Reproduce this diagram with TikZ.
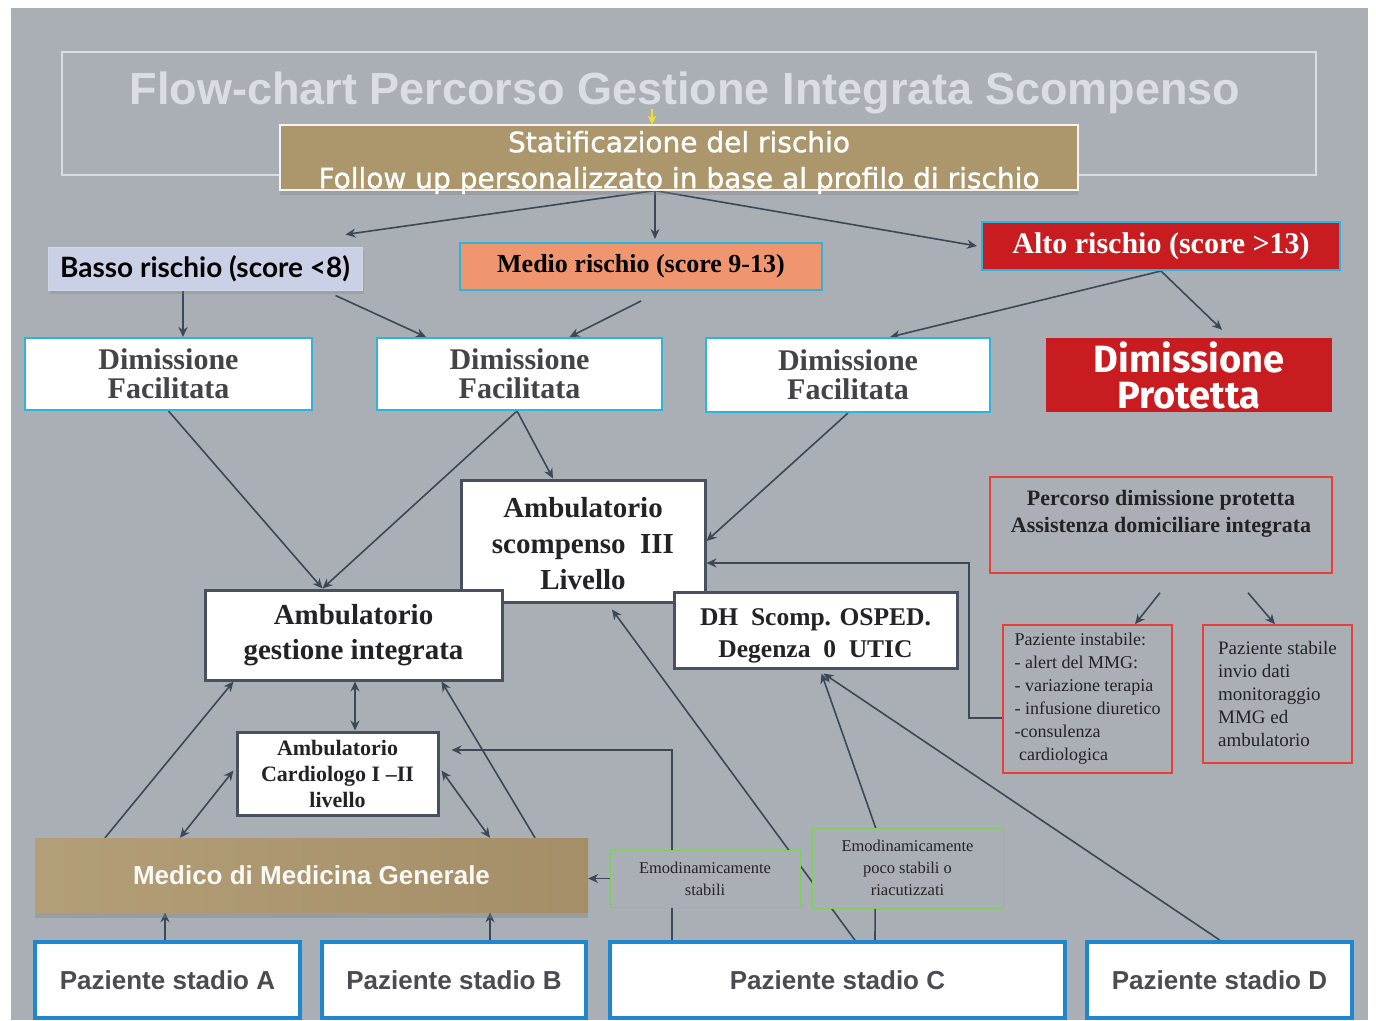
\documentclass[tikz,border=0pt]{standalone}
\usepackage{fontspec}
\setmainfont{Liberation Serif}
\newfontfamily\arialf{Liberation Sans}
\newfontfamily\firaf{Fira Sans}
\newfontfamily\dejaf[FakeBold=1.2]{DejaVu Sans}
\newfontfamily\latof{Lato}
\usetikzlibrary{arrows.meta,shadows}
\newcommand\fsz[2]{\fontsize{#1}{#2}\selectfont}
\newcommand\toppad[1]{\rule{0pt}{#1}}

\definecolor{slide}{RGB}{170,175,182}
\definecolor{khaki}{RGB}{172,150,108}
\definecolor{cyanb}{RGB}{45,180,220}
\definecolor{lav}{RGB}{202,208,230}
\definecolor{salmon}{RGB}{240,150,110}
\definecolor{alred}{RGB}{200,28,32}
\definecolor{darkb}{RGB}{72,82,94}
\definecolor{blueb}{RGB}{30,135,205}
\definecolor{redb}{RGB}{232,64,52}
\definecolor{greenb}{RGB}{125,205,95}
\definecolor{arrc}{RGB}{60,72,86}
\definecolor{ink}{RGB}{35,35,38}
\definecolor{pattxt}{RGB}{75,75,80}
\definecolor{titlec}{RGB}{218,222,228}
\definecolor{yel}{RGB}{235,225,40}

\pgfdeclarelayer{back}
\pgfdeclarelayer{links}
\pgfsetlayers{back,links,main}

\begin{document}
\begin{tikzpicture}[x=1pt,y=-1pt,
  sz/.style 2 args={minimum width=#1pt, minimum height=#2pt, inner sep=0pt},
  dfbox/.style={draw=cyanb, line width=2pt, fill=white, text=ink!85!white, align=center, font=\bfseries\fsz{30}{29}},
  darkbox/.style={draw=darkb, line width=3pt, fill=white, text=ink, align=center},
  patbox/.style={draw=blueb, line width=3.5pt, fill=white, text=pattxt, font=\arialf\bfseries\fsz{26}{28}},
  redbox/.style={draw=redb, line width=1.5pt, fill=slide, text=ink},
  greenbox/.style={draw=greenb, line width=1pt, fill=slide, text=ink, align=center, font=\fsz{16.5}{22}},
  arr/.style={draw=arrc, line width=1.6pt, -{Stealth[length=10pt,width=9pt]}},
  darr/.style={draw=arrc, line width=1.6pt, {Stealth[length=10pt,width=9pt]}-{Stealth[length=10pt,width=9pt]}}
]
\useasboundingbox (0,0) rectangle (1376,1020);
\begin{pgfonlayer}{back}
  \fill[white] (0,0) rectangle (1376,1020);
  \fill[slide] (11,8) rectangle (1368,1020);
\end{pgfonlayer}

% title frame and heading
\node[sz={1254}{123}, draw=titlec, line width=1.5pt] (frame) at (689,113.5) {};
\node[font=\arialf\bfseries\fsz{45}{45}, text=titlec, inner sep=0pt] (ttl) at (685,93)
  {Flow-chart Percorso Gestione Integrata Scompenso};

% risk stratification
\node[sz={798}{65}, fill=khaki, draw=white!90!khaki, line width=1.2pt,
      drop shadow={shadow xshift=0pt, shadow yshift=-5pt, opacity=0.35},
      label={[text=white, align=center, inner sep=0pt, font=\dejaf\fsz{28}{36}, yshift=-5pt]center:Statificazione del rischio\\Follow up personalizzato in base al profilo di rischio}]
  (strat) at (679,157.5) {};

\node[sz={314}{43}, fill=lav, draw=lav!85!white, line width=1pt, text=black, font=\latof\bfseries\fsz{28}{28},
      drop shadow={shadow xshift=2pt, shadow yshift=-4pt, opacity=0.3}]
  (basso) at (205,268.5) {Basso rischio (score <8)};
\node[sz={362}{47}, fill=salmon, draw=cyanb, line width=2pt, text=black, font=\bfseries\fsz{26}{26}]
  (medio) at (641,266.5) {Medio rischio (score 9-13)};
\node[sz={358}{48}, fill=alred, draw=cyanb, line width=2pt, text=white, font=\bfseries\fsz{30}{30}]
  (alto) at (1161,246) {Alto rischio (score >13)};

% discharge
\node[sz={287}{72}, dfbox] (df1) at (168.5,374) {Dimissione\\Facilitata};
\node[sz={285}{72}, dfbox] (df2) at (519.5,374) {Dimissione\\Facilitata};
\node[sz={284}{74}, dfbox] (df3) at (848,375) {Dimissione\\Facilitata};
\node[sz={286}{74}, fill=alred, text=white, align=center, font=\firaf\bfseries\fsz{38}{36}]
  (dp) at (1189,375) {Dimissione\\Protetta};

% outpatient and hospital services
\node[sz={244}{122}, darkbox, font=\bfseries\fsz{29}{36}] (as3) at (583,541)
  {\toppad{26pt}Ambulatorio\\scompenso\ \ III\\Livello};
\node[sz={297}{90}, darkbox, font=\bfseries\fsz{29}{35}] (agi) at (353.5,635)
  {Ambulatorio\\gestione integrata};
\node[sz={283}{76}, darkbox, font=\bfseries\fsz{25.5}{32}] (dh) at (815.5,630)
  {\toppad{28pt}DH\ \ Scomp. OSPED.\\Degenza\ \ 0\ \ UTIC};
\node[sz={201}{83}, darkbox, font=\bfseries\fsz{22}{26}] (acl) at (337.5,773.5)
  {Ambulatorio\\Cardiologo I –II\\livello};

% general practitioner
\node[sz={553}{74}, left color=khaki!92!white, right color=khaki!95!black, text=white!94!khaki,
      font=\arialf\bfseries\fsz{26}{26}, drop shadow={shadow xshift=0pt, shadow yshift=-6pt, opacity=0.4}]
  (mmg) at (311.5,875) {Medico di Medicina Generale};

% patients by stage
\node[sz={265}{76}, patbox] (pa) at (167.5,980) {Paziente stadio A};
\node[sz={264}{76}, patbox] (pb) at (454,980) {Paziente stadio B};
\node[sz={455}{76}, patbox] (pc) at (837.5,980) {Paziente stadio C};
\node[sz={265}{76}, patbox] (pd) at (1219.5,980) {Paziente stadio D};

% haemodynamic status
\node[sz={190}{57}, greenbox] (em1) at (705,878.5) {Emodinamicamente\\stabili};
\node[sz={191}{80}, greenbox] (em2) at (907.5,868) {Emodinamicamente\\poco stabili o\\riacutizzati};

% protected discharge pathway
\node[sz={342}{96}, redbox, align=center, font=\bfseries\fsz{22}{27}] (pdp) at (1161,525)
  {\toppad{24pt}Percorso dimissione protetta\\Assistenza domiciliare integrata\\\strut};
\node[sz={169}{148}, redbox, align=left, font=\fsz{18}{23}] (pins) at (1087.5,699)
  {Paziente instabile:\\- alert del MMG:\\- variazione terapia\\- infusione diuretico\\-consulenza\\\ cardiologica};
\node[sz={149}{138}, redbox, align=left, font=\fsz{19}{23}] (pst) at (1277.5,694)
  {Paziente stabile\\invio dati\\monitoraggio\\MMG ed\\ambulatorio};

% connectors
\begin{pgfonlayer}{links}
  \draw[yel, line width=1.5pt, -{Stealth[length=9pt,width=9pt]}] ([xshift=-33pt,yshift=-16pt]ttl.center) -- ([xshift=-27pt]strat.north);
  \draw[arr] ([xshift=-24pt]strat.south) -- ([xshift=-17pt,yshift=12pt]basso.north east);
  \draw[arr] ([xshift=-24pt]strat.south) -- ([xshift=14pt,yshift=3pt]medio.north);
  \draw[arr] ([xshift=-24pt]strat.south) -- ([xshift=-4pt]alto.west);
  \draw[arr] ([xshift=-22pt]basso.south) -- ([xshift=14.5pt]df1.north);
  \draw[arr] ([xshift=-27pt,yshift=-5pt]basso.south east) -- ([xshift=50pt]df2.north west);
  \draw[arr] ([yshift=-10pt]medio.south) -- ([xshift=50pt]df2.north);
  \draw[arr] (alto.south) -- ([xshift=42pt]df3.north);
  \draw[arr] (alto.south) -- ([xshift=33pt,yshift=8pt]dp.north);
  \draw[arr] (df1.south) -- ([xshift=-31pt]agi.north);
  \draw[arr] ([xshift=-2.5pt]df2.south) -- ([xshift=-31pt]agi.north);
  \draw[arr] ([xshift=-2.5pt]df2.south) -- ([xshift=-30pt]as3.north);
  \draw[arr] (df3.south) -- (as3.east);
  \draw[arr] ([yshift=-19pt]pins.west) -- ++(-33pt,0pt) |- ([yshift=-22pt]as3.east);
  \draw[darr] ([xshift=1.5pt]agi.south) -- ([xshift=17.5pt]acl.north);
  \draw[arr] ([xshift=-206.5pt]mmg.north) -- ([xshift=30pt]agi.south west);
  \draw[darr] ([xshift=-131.5pt]mmg.north) -- ([xshift=-2pt,yshift=3pt]acl.west);
  \draw[darr] ([xshift=178.5pt]mmg.north) -- ([xshift=2pt,yshift=3pt]acl.east);
  \draw[arr] ([xshift=223.5pt]mmg.north) -- ([xshift=-62pt]agi.south east);
  \draw[arr] ([xshift=-2.5pt]pa.north) -- ([xshift=-146.5pt]mmg.south);
  \draw[arr] ([xshift=36pt]pb.north) -- ([xshift=178.5pt]mmg.south);
  \draw[arr] ([xshift=-165.5pt]pc.north) |- ([xshift=12pt,yshift=23.5pt]acl.east);
  \draw[arr] (em1.west) -- (mmg.east |- em1.west);
  \draw[arr] ([xshift=17.5pt]pc.north) -- ([xshift=29pt,yshift=-6pt]as3.south);
  \draw[arr] ([xshift=37.5pt]pc.north) -- ([xshift=-32pt]em2.north) -- ([xshift=6pt,yshift=-4pt]dh.south);
  \draw[arr] ([xshift=0.5pt]pd.north) -- ([xshift=8pt,yshift=-4pt]dh.south);
  \draw[arr] ([xshift=-1pt,yshift=-19pt]pdp.south) -- ([xshift=47.5pt]pins.north);
  \draw[arr] ([xshift=87pt,yshift=-19pt]pdp.south) -- ([xshift=-2.5pt]pst.north);
\end{pgfonlayer}
\end{tikzpicture}
\end{document}
